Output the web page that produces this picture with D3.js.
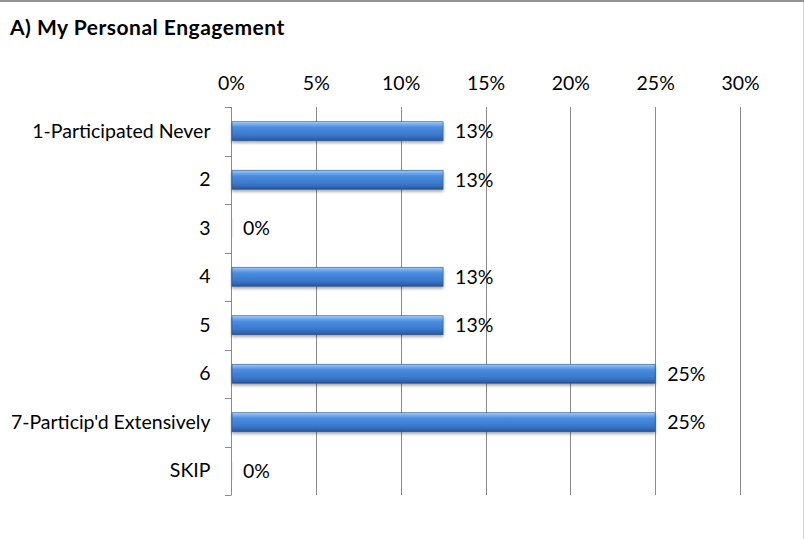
<!DOCTYPE html>
<html><head><meta charset="utf-8">
<script src="https://cdn.jsdelivr.net/npm/d3@7"></script>
<style>body{margin:0;background:#fff}svg{display:block}</style>
</head><body>
<script>
const categories = ["1-Participated Never","2","3","4","5","6","7-Particip'd Extensively","SKIP"];
const values = [12.5,12.5,0,12.5,12.5,25,25,0];
const valueLabels = ["13%","13%","0%","13%","13%","25%","25%","0%"];
const tickValues = [0,5,10,15,20,25,30];
const title = "A) My Personal Engagement";

(function(){
const W=804,H=539;
const svg=d3.select("body").append("svg").attr("width",W).attr("height",H);
const defs=svg.append("defs");
const g1=defs.append("linearGradient").attr("id","barg").attr("x1",0).attr("y1",0).attr("x2",0).attr("y2",1);
[[0,"#a9cdf5"],[0.12,"#79b0ee"],[0.3,"#4a8ddf"],[0.7,"#3a78cc"],[0.9,"#2e64b0"],[1,"#24508f"]].forEach(s=>g1.append("stop").attr("offset",s[0]).attr("stop-color",s[1]));
const f=defs.append("filter").attr("id","sh").attr("x","-5%").attr("y","-30%").attr("width","110%").attr("height","180%");
f.append("feGaussianBlur").attr("in","SourceAlpha").attr("stdDeviation",1.5);
f.append("feOffset").attr("dx",0).attr("dy",2).attr("result","o");
f.append("feComponentTransfer").append("feFuncA").attr("type","linear").attr("slope",0.35);
const m=f.append("feMerge");m.append("feMergeNode");m.append("feMergeNode").attr("in","SourceGraphic");

svg.append("rect").attr("x",0).attr("y",0).attr("width",W).attr("height",H).attr("fill","#fff");
svg.append("line").attr("x1",0).attr("x2",W).attr("y1",1).attr("y2",1).attr("stroke","#939393").attr("stroke-width",2);
svg.append("line").attr("x1",W-0.5).attr("x2",W-0.5).attr("y1",2).attr("y2",H).attr("stroke","#d4d4d4").attr("stroke-width",1);

const font="Lato, 'Open Sans', sans-serif";
svg.append("text").attr("x",10).attr("y",35).attr("font-family",font).attr("font-weight","bold")
 .attr("font-size",21).attr("letter-spacing",0.5).attr("fill","#000").text(title);

const pl=231,pr=740,pt=107,pb=495;
const x=d3.scaleLinear().domain([0,30]).range([pl,pr]);
const y=d3.scaleBand().domain(categories).range([pt,pb]);
const fs=19.5;

svg.append("g").selectAll("line").data(tickValues.slice(1)).join("line")
 .attr("x1",d=>Math.round(x(d))+0.5).attr("x2",d=>Math.round(x(d))+0.5).attr("y1",pt).attr("y2",pb)
 .attr("stroke","#8a8a8a");

const xa=svg.append("g").attr("transform",`translate(0,${pt})`)
 .call(d3.axisTop(x).tickValues(tickValues).tickFormat(d=>d+"%").tickSize(0).tickPadding(17));
xa.select(".domain").remove();
xa.selectAll("text").attr("font-family",font).attr("font-size",fs).attr("fill","#000");

const ya=svg.append("g").attr("transform",`translate(${pl+0.5},0)`)
 .call(d3.axisLeft(y).tickSize(0).tickPadding(21));
ya.select(".domain").attr("stroke","#8a8a8a").attr("d",`M0,${pt}V${pb}`);
ya.selectAll("text").attr("font-family",font).attr("font-size",fs).attr("fill","#000");
svg.append("g").selectAll("line").data(d3.range(categories.length+1)).join("line")
 .attr("x1",pl-6).attr("x2",pl+0.5)
 .attr("y1",i=>Math.round(pt+i*y.step())+0.5).attr("y2",i=>Math.round(pt+i*y.step())+0.5)
 .attr("stroke","#8a8a8a");

const bh=19;
svg.append("g").selectAll("rect").data(values).join("rect")
 .attr("x",pl+1).attr("y",(d,i)=>y(categories[i])+y.bandwidth()/2-bh/2)
 .attr("width",d=>Math.max(x(d)-pl-1,1.5)).attr("height",bh)
 .attr("fill",d=>d>0?"url(#barg)":"#f2f2f2")
 .attr("stroke",d=>d>0?"#2b5590":"none").attr("stroke-width",0.6)
 .attr("filter",d=>d>0?"url(#sh)":null);

svg.append("g").selectAll("text").data(values).join("text")
 .attr("x",d=>x(d)+12).attr("y",(d,i)=>y(categories[i])+y.bandwidth()/2)
 .attr("dy","0.35em").attr("font-family",font).attr("font-size",fs).attr("fill","#000")
 .text((d,i)=>valueLabels[i]);
})();
</script>
</body></html>
